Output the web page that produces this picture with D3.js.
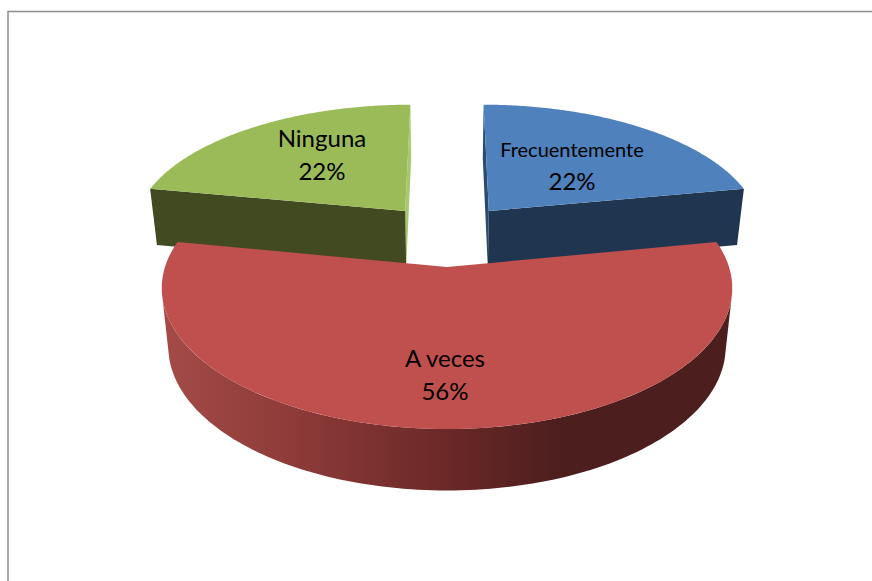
<!DOCTYPE html>
<html><head><meta charset="utf-8">
<script src="https://cdnjs.cloudflare.com/ajax/libs/d3/7.8.5/d3.min.js"></script>
<style>html,body{margin:0;padding:0;background:#fff}svg{display:block}text{font-family:Lato,"Open Sans",sans-serif;fill:#000}</style>
</head><body>
<script>
const categories = ["Frecuentemente", "A veces", "Ninguna"];
const values = [22, 56, 22];
const topColors = ["#4f81bd", "#c0504d", "#9bbb59"];
const cutColors = ["#1f3550", "#4c1e1e", "#414a21"];
const innerColors = ["#2a4a70", "#4c1e1e", "#a9c86e"];
const labelFontSizes = [20, 24, 24];

const W = 872, H = 581;
const cx = 447, k = 0.145, explode = 0.245;
const planeTop = {cy: 234.5, ry: 128, shrink: 1};
const planeBottom = {cy: 291.6, ry: 130.9, shrink: 0.977};
const radiusX = [275, 272, 275];
const labelRadius = [0.53, 0.702, 0.53];
const labelNudge = [[0, 1], [-2, 0], [0, -9]];

const svg = d3.select("body").append("svg").attr("width", W).attr("height", H);
const defs = svg.append("defs");
const grad = defs.append("linearGradient").attr("id", "wall")
  .attr("gradientUnits", "userSpaceOnUse").attr("x1", 162).attr("x2", 560).attr("y1", 0).attr("y2", 0);
[[0, "#a44b48"], [0.35, "#8c3a38"], [0.72, "#6a2827"], [1, "#4c1e1e"]].forEach(s =>
  grad.append("stop").attr("offset", s[0]).attr("stop-color", s[1]));

svg.append("path").attr("d", `M8,${H}V11.5H${W}`).attr("fill", "none").attr("stroke", "#8c8c8c").attr("stroke-width", 1.5);

const pie = d3.pie().sort(null).startAngle(0).endAngle(2 * Math.PI);
const arcs = pie(values);

function project(i, plane, ang, r) {
  const mid = (arcs[i].startAngle + arcs[i].endAngle) / 2;
  const X = explode * Math.sin(mid) + r * Math.sin(ang);
  const Y = explode * Math.cos(mid) + r * Math.cos(ang);
  const s = 1 / (1 + k * Y);
  return [cx + radiusX[i] * plane.shrink * X * s, plane.cy - plane.ry * Y * s];
}
const line = d3.line();
const rim = (i, plane, a0, a1) => d3.range(0, 121).map(t => project(i, plane, a0 + (a1 - a0) * t / 120, 1));
const quad = (i, ang) => line([
  project(i, planeTop, ang, 0), project(i, planeTop, ang, 1),
  project(i, planeBottom, ang, 1), project(i, planeBottom, ang, 0)]) + "Z";
const face = i => line([project(i, planeTop, 0, 0), ...rim(i, planeTop, arcs[i].startAngle, arcs[i].endAngle)]) + "Z";

// Back slices: inner wall, cut wall, top
svg.append("path").attr("d", quad(0, arcs[0].startAngle)).attr("fill", innerColors[0]);
svg.append("path").attr("d", quad(2, arcs[2].endAngle)).attr("fill", innerColors[2]);
svg.append("path").attr("d", quad(0, arcs[0].endAngle)).attr("fill", cutColors[0]);
svg.append("path").attr("d", quad(2, arcs[2].startAngle)).attr("fill", cutColors[2]);
svg.append("path").attr("d", face(0)).attr("fill", topColors[0]);
svg.append("path").attr("d", face(2)).attr("fill", topColors[2]);

// Front slice: curved wall then top
const rad = d => d * Math.PI / 180;
const aR = rad(103), aL = rad(257);
svg.append("path").attr("fill", "url(#wall)").attr("d",
  line([...rim(1, planeTop, aR, aL), ...rim(1, planeBottom, aR, aL).reverse()]) + "Z");
svg.append("path").attr("d", face(1)).attr("fill", topColors[1]);

// Labels
arcs.forEach((a, i) => {
  const mid = (a.startAngle + a.endAngle) / 2;
  const p = project(i, planeTop, mid, labelRadius[i]);
  const x = p[0] + labelNudge[i][0], y = p[1] + labelNudge[i][1];
  const t = svg.append("text").attr("text-anchor", "middle");
  t.append("tspan").attr("x", x).attr("y", y - 8).attr("font-size", labelFontSizes[i]).text(categories[i]);
  t.append("tspan").attr("x", x).attr("y", y + 25).attr("font-size", 24).text(values[i] + "%");
});
</script>
</body></html>
